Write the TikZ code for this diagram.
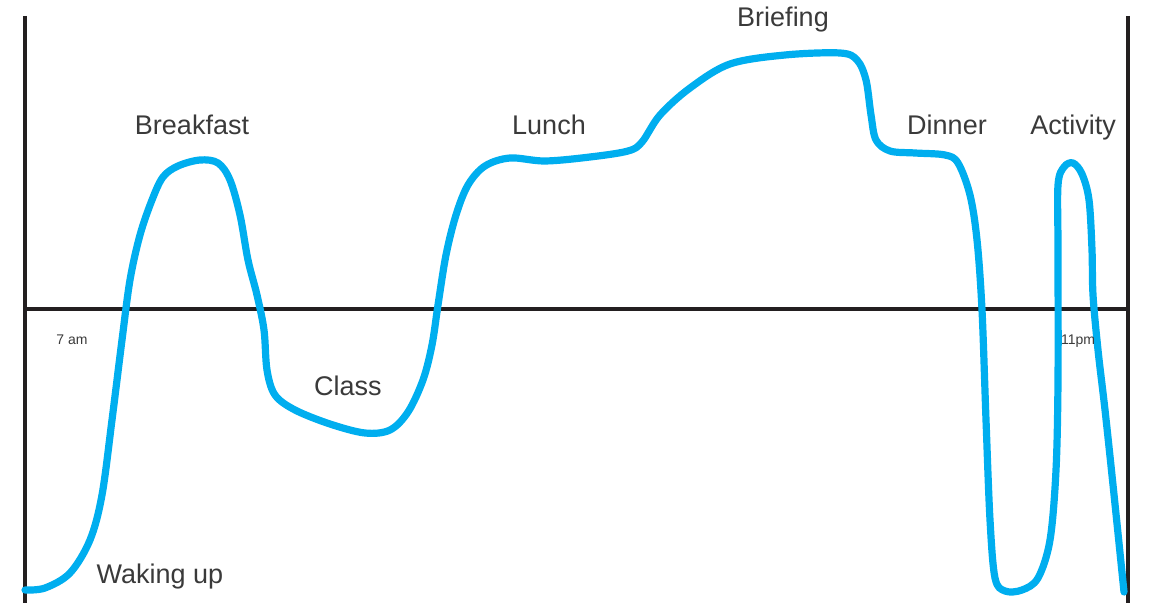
\documentclass[tikz,border=0pt]{standalone}
\usepackage{fontspec}
\setmainfont{Liberation Sans}
\definecolor{axisc}{HTML}{231F20}
\definecolor{curvec}{HTML}{00AEEF}
\definecolor{textc}{HTML}{3A3A3A}
\begin{document}
\begin{tikzpicture}[x=0.5pt,y=-0.5pt,
  axis/.style={draw=axisc,line width=2pt},
  mood/.style={draw=curvec,line width=3.6pt,line cap=round,line join=round},
  lab/.style={text=textc,font=\fontsize{13.5}{15}\selectfont,inner sep=0pt,anchor=base},
  small/.style={text=textc,font=\fontsize{7}{8}\selectfont,inner sep=0pt,anchor=base}]
\useasboundingbox (0,0) rectangle (1150,603);
\coordinate (lt) at (25,16);
\coordinate (lb) at (25,603);
\coordinate (rt) at (1128,16);
\coordinate (rb) at (1128,603);
\coordinate (hl) at (25,309);
\coordinate (hr) at (1128,309);
\draw[axis] (lt) -- (lb);
\draw[axis] (rt) -- (rb);
\draw[axis] (hl) -- (hr);
\draw[mood] plot[smooth,tension=0.55] coordinates {
(25,590) (45,588) (70,573) (90,540) (102,495) (112,420) (122,340) (130,280)
(140,235) (152,200) (163,177) (178,166) (200,160) (218,163) (230,180) (240,215)
(248,260) (257,295) (264,330) (267,370) (275,395) (295,410) (330,424) (365,433)
(390,430) (408,412) (423,380) (432,345) (438,305) (446,255) (456,215) (468,185)
(485,166) (510,158) (545,161) (590,157) (628,151) (642,142) (660,115) (690,88)
(730,64) (785,55) (840,53) (857,60) (866,80) (871,115) (876,140) (890,151)
(915,153) (945,155) (958,163) (970,195) (977,240) (982,310) (986,420) (990,520)
(995,578) (1005,591) (1022,590) (1038,578) (1050,540) (1056,470) (1058,380)
(1058,250) (1058,185) (1064,167) (1073,163) (1082,174) (1089,200) (1092,250)
(1093,295) (1098,350) (1105,410) (1113,485) (1124,592)};
\node[lab] (breakfast) at (192,135) {Breakfast};
\node[lab] (lunch) at (549,135) {Lunch};
\node[lab] (briefing) at (783,27) {Briefing};
\node[lab] (dinner) at (947,135) {Dinner};
\node[lab] (activity) at (1073,135) {Activity};
\node[lab] (class) at (348,396) {Class};
\node[lab] (waking) at (160,583) {Waking up};
\node[small] (am) at (72,345) {7 am};
\node[small] (pm) at (1078,345) {11pm};
\end{tikzpicture}
\end{document}
